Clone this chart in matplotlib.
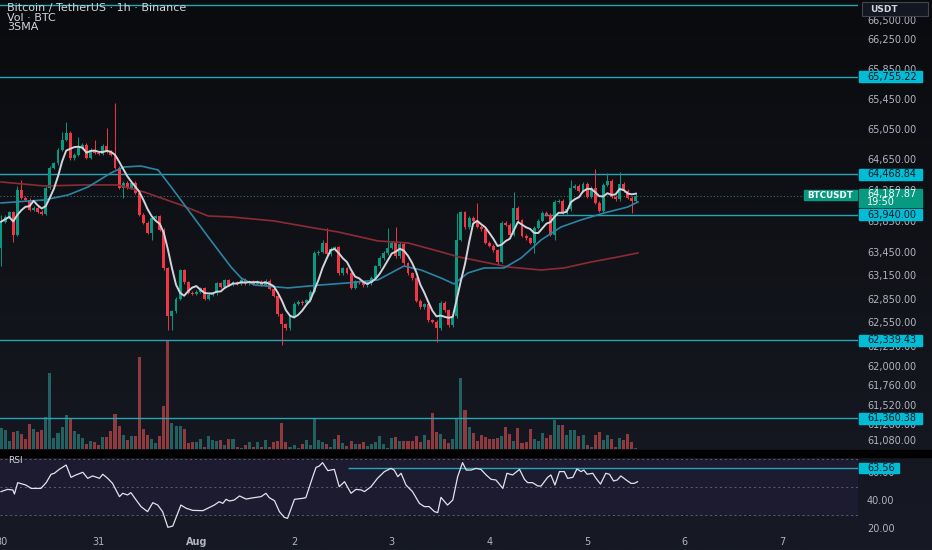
import numpy as np
import pandas as pd
import matplotlib
matplotlib.use("Agg")
import matplotlib.pyplot as plt
from matplotlib.patches import Rectangle
from matplotlib.colors import LinearSegmentedColormap

# BTCUSDT 1h candles (candle 0 = Jul 30 00:00)
first_open = 63514
closes = [
    63852, 63915, 63973, 63683, 64268, 64164, 64138, 64008, 64034, 63982,
    63955, 64294, 64554, 64615, 64788, 64918, 65009, 64680, 64723, 64815,
    64853, 64684, 64788, 64749, 64735, 64840, 64762, 64723, 64554, 64294,
    64360, 64294, 64360, 64229, 63943, 63839, 63709, 63905, 63925, 63748,
    63254, 62643, 62705, 62865, 63228, 63072, 62942, 62929, 62955, 62995,
    62865, 62915, 62935, 63059, 63015, 63098, 63045, 63075, 63055, 63105,
    63065, 63085, 63055, 63080, 63045, 63095, 62994, 62905, 62669, 62539,
    62487, 62643, 62799, 62825, 62810, 62845, 62955, 63449, 63465, 63579,
    63435, 63500, 63525, 63189, 63255, 63195, 63007, 63085, 63075, 63035,
    63065, 63135, 63280, 63385, 63449, 63515, 63579, 63410, 63565, 63319,
    63189, 63125, 62838, 62760, 62795, 62590, 62570, 62487, 62812, 62715,
    62525, 62640, 63620, 63975, 63780, 63905, 63865, 63790, 63755, 63580,
    63540, 63485, 63335, 63840, 63815, 63685, 64035, 63870, 63670, 63640,
    63580, 63775, 63865, 63970, 63945, 63685, 64112, 64125, 63970, 64015,
    64295, 64315, 64255, 64346, 64177, 64295, 64100, 63995, 64333, 64385,
    64177, 64145, 64346, 64255, 64165, 64125, 64187.87,
]
# the longer wicks that stand out
wick_high = {0: 63940, 4: 64316, 5: 64394, 15: 65023, 16: 65155, 19: 64958,
             23: 64917, 26: 65075, 28: 65405, 79: 63617, 80: 63771, 95: 63771,
             97: 63784, 112: 63965, 117: 64095, 126: 64238, 140: 64394,
             146: 64537, 149: 64485, 152: 64498}
wick_low = {0: 63283, 3: 63592, 30: 64160, 37: 63617, 41: 62468, 42: 62468,
            69: 62278, 107: 62316, 122: 63295, 131: 63450, 136: 63617,
            155: 63965}

volume = [
    21, 18.7, 7.7, 17, 17.7, 15, 10.3, 25.3, 20.3, 17,
    18.7, 32.3, 76, 11.3, 16.3, 22, 33.7, 29.7, 18, 15.3,
    11, 5.3, 8, 7, 3.7, 12, 12, 17.7, 34.7, 23,
    13.7, 9.3, 13, 12.7, 92, 19.7, 14.3, 9.7, 6, 13,
    43.3, 109, 26, 23, 23, 19.7, 6.3, 7, 7, 10.3,
    2.3, 13, 8.7, 8, 9, 3.7, 10.3, 10.3, 2, 1,
    3.7, 7, 2, 7, 2, 8.7, 2, 7, 8, 26.3,
    7, 2, 3.7, 1, 5.3, 9.3, 3.7, 29.7, 9, 7,
    5.3, 2, 9.7, 13.7, 6, 3, 8.3, 5, 5, 6.7,
    3, 5, 7, 13, 5, 1, 11, 12, 7.7, 8,
    8, 8, 13, 7, 13.7, 9.3, 36, 17, 15, 10.3,
    6, 10.3, 31.3, 71, 39, 21.7, 16.3, 8.3, 13.7, 12,
    9.7, 9.7, 11, 13, 21.7, 15, 7.7, 21.3, 6.3, 7,
    20.3, 9.7, 8, 15.7, 11, 13.7, 29.3, 23.7, 23.7, 13.7,
    19, 18.7, 13, 13.7, 3.7, 2, 13.7, 17, 9, 14,
    10.3, 2.3, 11.3, 9, 14.7, 7.3, 1,
]

# medium and slow SMA, read at points along the lines
sma_mid_i = [0, 10.6, 16.5, 21.4, 27, 30.2, 34.4, 38.6, 41.8, 46, 50.9, 56.5,
             59, 62.2, 70.5, 78.6, 85.3, 92.6, 99, 103.2, 108.1, 111.3, 114.7,
             118.7, 123.6, 127.8, 132.7, 137.6, 142.5, 148.2, 154, 156.5]
sma_mid_v = [64095, 64134, 64199, 64303, 64485, 64563, 64576, 64524, 64303,
             64004, 63656, 63270, 63129, 63040, 63002, 63040, 63066, 63104,
             63282, 63231, 63129, 63053, 63193, 63257, 63257, 63385, 63617,
             63784, 63875, 63965, 64043, 64108]
sma_slow_i = [0, 10.6, 20.4, 28.7, 35.1, 44.2, 50.9, 56.5, 67.1, 76.9, 82.8,
              92.6, 100, 106.4, 112.5, 116.2, 124.6, 132.7, 138.3, 145, 151.6,
              156.5]
sma_slow_v = [64368, 64316, 64329, 64329, 64238, 64069, 63926, 63914, 63862,
              63771, 63720, 63604, 63578, 63488, 63398, 63359, 63270, 63231,
              63257, 63334, 63398, 63450]

rsi_i = [0.0, 1.6, 2.9, 3.3, 4.1, 5.3, 6.1, 7.4, 9.8, 11.1,
         12.3, 13.1, 14.3, 16.0, 17.2, 18.4, 20.1, 21.3, 22.5, 24.2,
         25.0, 26.2, 27.4, 29.1, 29.9, 31.1, 31.9, 33.2, 34.4, 36.0,
         37.3, 38.5, 39.7, 41.0, 42.2, 44.2, 45.5, 47.1, 49.6, 50.8,
         52.4, 53.6, 54.5, 55.3, 56.1, 57.3, 58.6, 60.2, 62.2, 63.9,
         65.1, 65.9, 67.2, 68.4, 69.6, 70.4, 71.3, 72.1, 74.1, 74.9,
         76.6, 77.4, 78.2, 79.0, 80.3, 81.9, 83.1, 84.4, 86.0, 87.2,
         88.5, 89.3, 90.9, 92.5, 94.2, 95.8, 96.6, 97.5, 98.3, 99.5,
         101.1, 102.8, 104.0, 105.2, 106.5, 107.3, 108.1, 109.7, 111.0, 112.2,
         113.4, 114.3, 115.5, 116.7, 117.9, 119.2, 120.4, 121.6, 123.3, 124.3,
         125.7, 127.4, 128.6, 129.4, 130.6, 131.9, 132.7, 134.3, 135.1, 136.1,
         137.2, 138.4, 139.2, 140.5, 141.5, 142.5, 143.2, 144.0, 145.4, 146.2,
         147.3, 148.6, 149.5, 150.5, 151.4, 152.3, 153.6, 154.8, 155.6, 156.4]
rsi_v = [46.7, 48.3, 47.9, 45.0, 53.1, 52.1, 51.4, 49.0, 49.0, 53.1,
         59.1, 59.8, 62.6, 65.7, 56.9, 58.6, 60.5, 56.2, 57.9, 56.2,
         59.1, 56.2, 52.6, 43.1, 45.5, 44.3, 46.0, 40.7, 36.0, 32.4,
         38.8, 37.1, 32.4, 21.2, 22.1, 37.1, 34.8, 33.3, 33.1, 34.8,
         37.1, 39.5, 38.3, 41.2, 40.0, 40.7, 43.6, 41.4, 42.4, 43.1,
         45.5, 42.4, 40.2, 32.4, 28.3, 27.6, 34.8, 41.2, 41.9, 42.4,
         57.4, 64.0, 65.0, 67.4, 61.7, 62.6, 50.2, 53.8, 45.5, 48.3,
         47.9, 46.7, 50.2, 56.2, 61.0, 63.3, 62.1, 57.4, 59.8, 51.4,
         46.7, 38.3, 36.0, 36.0, 32.4, 31.7, 42.6, 37.1, 40.7, 57.4,
         67.4, 62.1, 62.1, 63.3, 62.6, 58.6, 55.5, 55.0, 49.0, 59.8,
         58.6, 62.6, 55.5, 53.1, 53.1, 50.7, 50.7, 56.9, 58.6, 51.4,
         61.0, 61.0, 56.2, 56.9, 62.9, 61.0, 62.1, 59.1, 59.8, 56.2,
         52.1, 59.8, 59.1, 54.3, 55.0, 57.9, 55.0, 52.6, 52.6, 53.8]

levels = [66710, 65755.22, 64468.84, 63940.00, 62339.43, 61360.38]
level_from = [0, 0, 0, 134, 0, 0]
level_tagged = [False, True, True, True, True, True]
price_ticks = [66500, 66250, 65850, 65450, 65050, 64650, 64250, 63850, 63450,
               63150, 62850, 62550, 62250, 62000, 61760, 61520, 61280, 61080]
rsi_ticks = [60, 40, 20]
rsi_level = 63.56
rsi_level_from = 85.3
day_pos = [0, 24, 48, 72, 96, 120, 144, 168, 192]
day_labels = ["30", "31", "Aug", "2", "3", "4", "5", "6", "7"]
last_price = 64187.87
countdown = "19:50"

UP = "#089981"
DOWN = "#f23645"
CYAN = "#00bcd4"
LINE = "#24a6b8"
TXT = "#b2b5be"

W, H = 932, 550
fig = plt.figure(figsize=(W / 100, H / 100), dpi=100)


def rect(x0, y0, x1, y1):
    # pixel box (top-left origin) -> figure fraction
    return [x0 / W, 1 - y1 / H, (x1 - x0) / W, (y1 - y0) / H]


# background gradient
bg = fig.add_axes([0, 0, 1, 1], zorder=-10)
cmap = LinearSegmentedColormap.from_list("bg", ["#0a0b0e", "#111319", "#171a25"])
bg.imshow(np.linspace(0, 1, 256).reshape(-1, 1), aspect="auto", cmap=cmap,
          extent=[0, 1, 0, 1])
bg.set_axis_off()
fig.patches.append(Rectangle((0, 1 - 457 / H), 1, 7 / H, transform=fig.transFigure,
                             color="#000000", zorder=-5))

xlim = (-0.25, 858 / 4.07 - 0.25)
n = len(closes)
idx = np.arange(n)
c = np.array(closes, dtype=float)
o = np.r_[first_open, c[:-1]]
up = c >= o
cols = np.where(up, UP, DOWN)
body_lo = np.minimum(o, c)
body_hi = np.maximum(np.maximum(o, c), body_lo * 1.00018)
highs = np.array([max(wick_high.get(i, body_hi[i] + 20), body_hi[i]) for i in idx])
lows = np.array([min(wick_low.get(i, body_lo[i] - 20), body_lo[i]) for i in idx])

# volume overlay
vax = fig.add_axes(rect(0, 0, 858, 449), zorder=1)
vax.bar(idx, volume, width=0.75, color=np.where(up, "#22615f", "#8e3a3f"), linewidth=0)
vax.set_xlim(*xlim)
vax.set_ylim(0, 449)
vax.set_axis_off()

# price pane
ax = fig.add_axes(rect(0, 0, 858, 449), zorder=2)
ax.set_yscale("log")
ax.set_xlim(*xlim)
ax.set_ylim(60981, 66783)
ax.set_axis_off()

for lv, st in zip(levels, level_from):
    ax.hlines(lv, st - 0.5, xlim[1], color=LINE, linewidth=1, zorder=1)
ax.axhline(last_price, color="#3f6f69", linewidth=0.8, linestyle=(0, (1, 2)), zorder=1)

ax.vlines(idx, lows, highs, colors=cols, linewidth=0.7, zorder=2)
ax.bar(idx, body_hi - body_lo, bottom=body_lo, width=0.72, color=cols,
       linewidth=0, zorder=2)

sma_fast = pd.Series(c).rolling(5, min_periods=1).mean()
ax.plot(sma_slow_i, sma_slow_v, color="#8b2c35", linewidth=1.2, zorder=3)
ax.plot(sma_mid_i, sma_mid_v, color="#2a85a4", linewidth=1.2, zorder=3)
ax.plot(idx, sma_fast, color="#d1d4dc", linewidth=1.4, zorder=3)

# RSI pane
rax = fig.add_axes(rect(0, 457, 858, 535), zorder=2)
rax.set_xlim(*xlim)
rax.set_ylim(15.71, 71.43)
rax.set_axis_off()
rax.axhspan(30, 70, color="#1d1b30", zorder=0)
for lv in (70, 50, 30):
    rax.axhline(lv, color="#5d606b", linewidth=0.7, linestyle=(0, (2, 3)), zorder=1)
rax.hlines(rsi_level, rsi_level_from, xlim[1], color=LINE, linewidth=1, zorder=2)
rax.plot(rsi_i, rsi_v, color="#e0e3eb", linewidth=0.9, zorder=3)


def ypix(axis, val):
    return axis.transData.transform((0, val))[1]


def tag(yc, text, fc, tc, x0=859, x1=922, h=11):
    fig.patches.append(Rectangle((x0 / W, (yc - h / 2) / H), (x1 - x0) / W, h / H,
                                 transform=fig.transFigure, color=fc, zorder=5))
    fig.text(867 / W, yc / H, text, color=tc, fontsize=7, ha="left", va="center",
             zorder=6)


# right axis labels
for p in price_ticks:
    fig.text(867 / W, ypix(ax, p) / H, f"{p:,.2f}", color=TXT, fontsize=7,
             ha="left", va="center", zorder=4)
for lv, tagged in zip(levels, level_tagged):
    if tagged:
        tag(ypix(ax, lv), f"{lv:,.2f}", CYAN, "#131722")
for r in rsi_ticks:
    fig.text(867 / W, ypix(rax, r) / H, f"{r:.2f}", color=TXT, fontsize=7,
             ha="left", va="center", zorder=4)
tag(ypix(rax, rsi_level), f"{rsi_level:.2f}", CYAN, "#131722", x1=899, h=10)

# last price tag
yl = ypix(ax, last_price)
fig.patches.append(Rectangle((859 / W, (yl - 11.5) / H), 63 / W, 18 / H,
                             transform=fig.transFigure, color=UP, zorder=5))
fig.text(867 / W, (yl + 1.5) / H, f"{last_price:,.2f}", color="white", fontsize=7,
         ha="left", va="center", zorder=6)
fig.text(867 / W, (yl - 6.5) / H, countdown, color="white", fontsize=7,
         ha="left", va="center", zorder=6)
fig.patches.append(Rectangle((804 / W, (yl - 4.5) / H), 53 / W, 10.5 / H,
                             transform=fig.transFigure, color=UP, zorder=5))
fig.text(830.5 / W, (yl + 0.5) / H, "BTCUSDT", color="white", fontsize=6.3,
         fontweight="bold", ha="center", va="center", zorder=6)

# currency box
fig.patches.append(Rectangle((862 / W, 1 - 16 / H), 66 / W, 14 / H,
                             transform=fig.transFigure, facecolor="#131722",
                             edgecolor="#434651", linewidth=0.8, zorder=5))
fig.text(870 / W, 1 - 9 / H, "USDT", color="#d1d4dc", fontsize=6.5,
         fontweight="bold", ha="left", va="center", zorder=6)

# time axis
for pos, lab in zip(day_pos, day_labels):
    xp = ax.transData.transform((pos, last_price))[0]
    fig.text(xp / W, 1 - 542 / H, lab, color=TXT, fontsize=7, ha="center",
             va="center", fontweight="bold" if lab == "Aug" else "normal")

# legends
fig.text(7 / W, 1 - 8 / H, "Bitcoin / TetherUS · 1h · Binance", color="#d1d4dc",
         fontsize=8, ha="left", va="center")
fig.text(7 / W, 1 - 18 / H, "Vol · BTC", color="#d1d4dc", fontsize=8,
         ha="left", va="center")
fig.text(7 / W, 1 - 27.5 / H, "3SMA", color="#d1d4dc", fontsize=8,
         ha="left", va="center")
fig.text(8 / W, 1 - 460.5 / H, "RSI", color="#d1d4dc", fontsize=6.5,
         ha="left", va="center", zorder=6)

fig.savefig("out.png", dpi=100, facecolor="#111319")
